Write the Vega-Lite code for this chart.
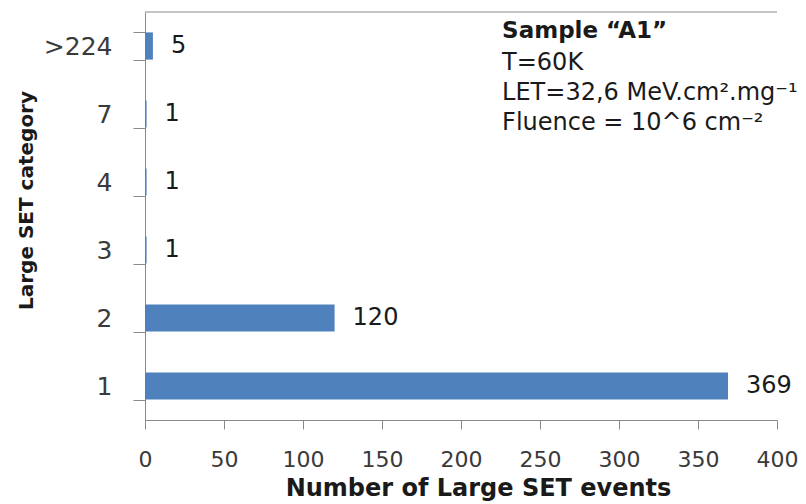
{
  "$schema": "https://vega.github.io/schema/vega-lite/v6.json",
  "autosize": "none",
  "width": 632,
  "height": 408,
  "padding": {"left": 145, "top": 12, "right": 29, "bottom": 84},
  "background": "white",
  "config": {
    "view": {"stroke": null},
    "font": "DejaVu Sans",
    "axis": {
      "labelFont": "DejaVu Sans",
      "titleFont": "DejaVu Sans",
      "labelColor": "#3a3a3a",
      "titleColor": "#1a1a1a",
      "titleFontWeight": "bold",
      "domainColor": "#8a8a8a",
      "tickColor": "#8a8a8a",
      "grid": false
    }
  },
  "data": {
    "values": [
      {"category": ">224", "count": 5},
      {"category": "7", "count": 1},
      {"category": "4", "count": 1},
      {"category": "3", "count": 1},
      {"category": "2", "count": 120},
      {"category": "1", "count": 369}
    ]
  },
  "layer": [
    {
      "mark": {"type": "bar", "color": "#4F81BD"},
      "encoding": {
        "y": {
          "field": "category",
          "type": "nominal",
          "sort": [">224", "7", "4", "3", "2", "1"],
          "scale": {"paddingInner": 0.6, "paddingOuter": 0.3},
          "axis": {
            "title": "Large SET category",
            "titleFontSize": 20,
            "titleY": 188,
            "labelFontSize": 25,
            "tickBand": "extent",
            "tickSize": 12,
            "labelPadding": 21,
            "titlePadding": 7,
            "labelAngle": 0
          }
        },
        "x": {
          "field": "count",
          "type": "quantitative",
          "scale": {"domain": [0, 400], "nice": false},
          "axis": {
            "title": "Number of Large SET events",
            "titleFontSize": 24,
            "titleX": 333,
            "labelFontSize": 22,
            "values": [0, 50, 100, 150, 200, 250, 300, 350, 400],
            "tickSize": 9,
            "labelPadding": 20,
            "titlePadding": 6,
            "labelFlush": false
          }
        }
      }
    },
    {
      "mark": {"type": "text", "align": "left", "baseline": "middle", "dx": 18, "fontSize": 24, "color": "#1a1a1a", "font": "DejaVu Sans"},
      "encoding": {
        "y": {"field": "category", "type": "nominal", "sort": [">224", "7", "4", "3", "2", "1"]},
        "x": {"field": "count", "type": "quantitative"},
        "text": {"field": "count", "type": "quantitative"}
      }
    },
    {
      "data": {"values": [{}]},
      "mark": {"type": "rule", "color": "#8a8a8a", "strokeWidth": 1},
      "encoding": {
        "x": {"datum": 0},
        "x2": {"datum": 400},
        "y": {"value": 0}
      }
    },
    {
      "data": {"values": [{}]},
      "mark": {"type": "text", "align": "left", "baseline": "alphabetic", "dy": -8, "fontSize": 23, "fontWeight": "bold", "color": "#1a1a1a", "font": "DejaVu Sans"},
      "encoding": {
        "x": {"datum": 226},
        "y": {"datum": ">224"},
        "text": {"value": "Sample “A1”"}
      }
    },
    {
      "data": {"values": [{}]},
      "mark": {"type": "text", "align": "left", "baseline": "alphabetic", "dy": 24, "lineHeight": 30, "fontSize": 24, "color": "#1a1a1a", "font": "DejaVu Sans"},
      "encoding": {
        "x": {"datum": 226},
        "y": {"datum": ">224"},
        "text": {"value": ["T=60K", "LET=32,6 MeV.cm².mg⁻¹", "Fluence = 10^6 cm⁻²"]}
      }
    }
  ]
}
